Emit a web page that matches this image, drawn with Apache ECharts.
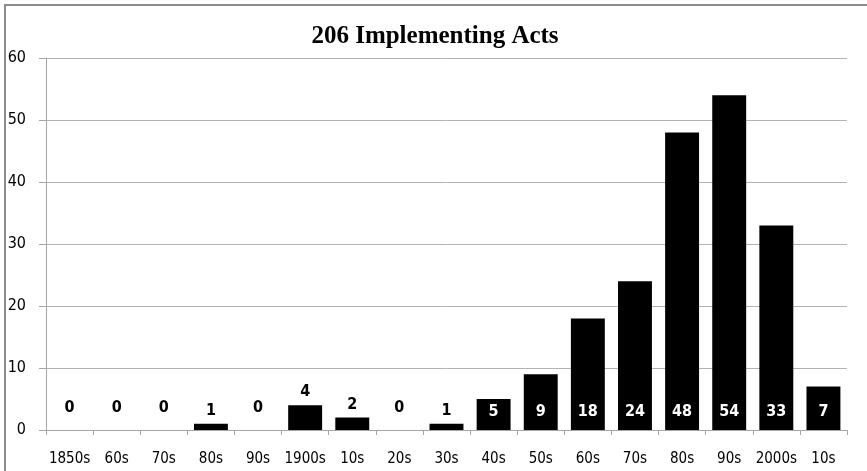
<!DOCTYPE html>
<html>
<head>
<meta charset="utf-8">
<script src="https://cdn.jsdelivr.net/npm/echarts@6/dist/echarts.min.js"></script>
<style>
  html, body { margin: 0; padding: 0; background: #fff; }
  #chart { width: 867px; height: 471px; }
</style>
</head>
<body>
<div id="chart"></div>
<script>
// Implementing acts per decade
const decades = ['1850s', '60s', '70s', '80s', '90s', '1900s', '10s', '20s', '30s',
                 '40s', '50s', '60s', '70s', '80s', '90s', '2000s', '10s'];
const acts = [0, 0, 0, 1, 0, 4, 2, 0, 1, 5, 9, 18, 24, 48, 54, 33, 7];
const yTicks = [0, 10, 20, 30, 40, 50, 60];
const titleText = '206 Implementing Acts';

const sansFont = 'DejaVu Sans Condensed';
const labelFont = { fontFamily: sansFont, fontWeight: 'bold', fontSize: 16 };

// Tall bars carry a white label at their base; short bars a black one above.
const barData = acts.map(function (v) {
  let label;
  if (v === 0) {
    label = Object.assign({ show: true, position: 'insideBottom', distance: 14, color: '#000' }, labelFont);
  } else if (v < 5) {
    label = Object.assign({ show: true, position: 'top', distance: 5, color: '#000' }, labelFont);
  } else {
    label = Object.assign({ show: true, position: 'insideBottom', distance: 10, color: '#fff' }, labelFont);
  }
  return { value: v, label: label };
});

const chart = echarts.init(document.getElementById('chart'), null, { renderer: 'canvas' });
chart.setOption({
  animation: false,
  backgroundColor: '#fff',
  title: {
    text: titleText,
    left: 430,
    textAlign: 'center',
    top: 19,
    textStyle: { fontFamily: 'Liberation Serif', fontWeight: 'bold', fontSize: 25, color: '#000' }
  },
  graphic: [{
    type: 'rect',
    shape: { x: 5, y: 5, width: 900, height: 520 },
    style: { fill: 'none', stroke: '#8c8c8c', lineWidth: 2 },
    silent: true
  }],
  grid: { left: 46, right: 20, top: 58, bottom: 41, containLabel: false },
  xAxis: {
    type: 'category',
    data: decades,
    boundaryGap: true,
    axisLine: { show: true, lineStyle: { color: '#a6a6a6', width: 1 } },
    axisTick: { show: true, alignWithLabel: false, length: 5, lineStyle: { color: '#a6a6a6' } },
    axisLabel: { interval: 0, margin: 22, color: '#000', fontFamily: sansFont, fontSize: 15 }
  },
  yAxis: {
    type: 'value',
    min: yTicks[0],
    max: yTicks[yTicks.length - 1],
    interval: yTicks[1] - yTicks[0],
    axisLine: { show: true, lineStyle: { color: '#a6a6a6', width: 1 } },
    axisTick: { show: true, length: 7, lineStyle: { color: '#a6a6a6' } },
    axisLabel: { margin: 20, color: '#000', fontFamily: sansFont, fontSize: 16 },
    splitLine: { show: true, lineStyle: { color: '#b3b3b3', width: 1 } }
  },
  series: [{
    type: 'bar',
    data: barData,
    barCategoryGap: '28%',
    itemStyle: { color: '#000' }
  }]
});
</script>
</body>
</html>
